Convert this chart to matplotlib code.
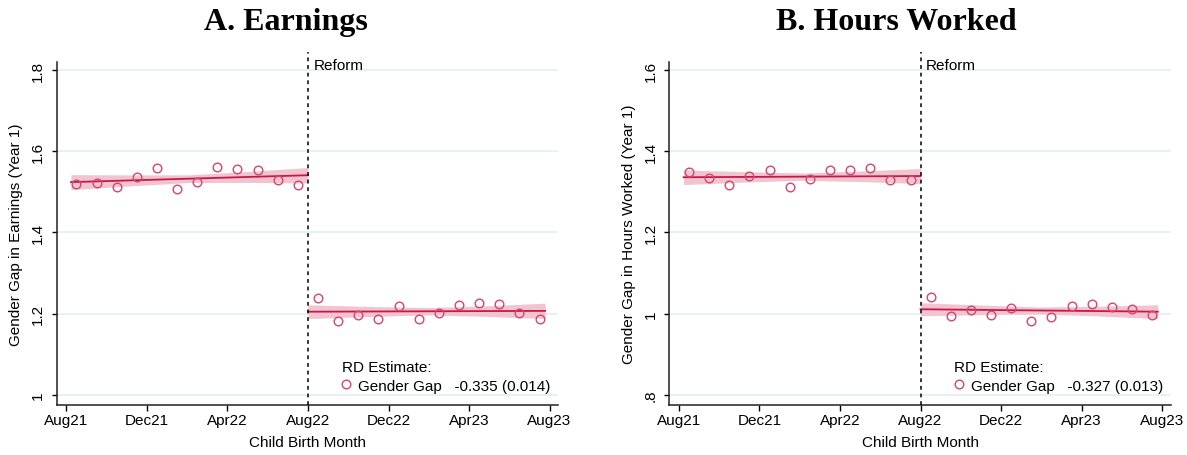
import numpy as np
import matplotlib
matplotlib.use("Agg")
import matplotlib.pyplot as plt

plt.rcParams["font.family"] = "Liberation Sans"

# Birth months (monthly bins), reform in Aug22
birth_month = ["Aug21", "Sep21", "Oct21", "Nov21", "Dec21", "Jan22", "Feb22", "Mar22",
               "Apr22", "May22", "Jun22", "Jul22", "Aug22", "Sep22", "Oct22", "Nov22",
               "Dec22", "Jan23", "Feb23", "Mar23", "Apr23", "May23", "Jun23", "Jul23"]
tick_labels = ["Aug21", "Dec21", "Apr22", "Aug22", "Dec22", "Apr23", "Aug23"]

# Panel A: gender gap in earnings
earn_gap = [1.520, 1.521, 1.513, 1.536, 1.559, 1.506, 1.525, 1.562, 1.557, 1.553, 1.529, 1.518,
            1.239, 1.182, 1.197, 1.186, 1.220, 1.187, 1.202, 1.221, 1.227, 1.225, 1.203, 1.187]
earn_fit_pre = [1.524, 1.541]
earn_fit_post = [1.205, 1.207]
earn_ci_pre = [0.0185, 0.0135, 0.0095, 0.0135, 0.019]
earn_ci_post = [0.017, 0.0125, 0.009, 0.013, 0.019]

# Panel B: gender gap in hours worked
hours_gap = [1.348, 1.335, 1.318, 1.340, 1.355, 1.311, 1.332, 1.353, 1.353, 1.360, 1.330, 1.328,
             1.041, 0.994, 1.008, 0.997, 1.015, 0.983, 0.993, 1.020, 1.025, 1.017, 1.012, 0.996]
hours_fit_pre = [1.336, 1.339]
hours_fit_post = [1.011, 1.005]
hours_ci_pre = [0.018, 0.013, 0.009, 0.013, 0.0185]
hours_ci_post = [0.016, 0.012, 0.0085, 0.012, 0.017]

rd_estimate = [-0.335, -0.327]
rd_se = [0.014, 0.013]

panels = [
    dict(title="A. Earnings", ylabel="Gender Gap in Earnings (Year 1)", gap=earn_gap,
         pre=earn_fit_pre, post=earn_fit_post, ci_pre=earn_ci_pre, ci_post=earn_ci_post,
         yticks=[1.0, 1.2, 1.4, 1.6, 1.8], yticklabels=["1", "1.2", "1.4", "1.6", "1.8"]),
    dict(title="B. Hours Worked", ylabel="Gender Gap in Hours Worked (Year 1)", gap=hours_gap,
         pre=hours_fit_pre, post=hours_fit_post, ci_pre=hours_ci_pre, ci_post=hours_ci_post,
         yticks=[0.8, 1.0, 1.2, 1.4, 1.6], yticklabels=[".8", "1", "1.2", "1.4", "1.6"]),
]

dot_col = "#d4466e"
line_col = "#c8174a"
band_col = "#f1c5d0"
fs = 11

fig = plt.figure(figsize=(11.87, 4.56), dpi=100)
ax_left = [0.0478, 0.5639]
title_x = [0.241, 0.755]

cutoff = 12
month_pos = np.arange(len(birth_month)) + 0.5
fit_start, fit_end = 0.23, 23.78

for i, p in enumerate(panels):
    ax = fig.add_axes([ax_left[i], 0.1103, 0.4225, 0.7515])
    ylo, yhi = p["yticks"][0], p["yticks"][-1]

    # CI bands and linear fits on each side of the cutoff
    for (x0, x1), fit, ci in [((fit_start, cutoff), p["pre"], p["ci_pre"]),
                              ((cutoff, fit_end), p["post"], p["ci_post"])]:
        xs = np.linspace(x0, x1, len(ci))
        ys = np.linspace(fit[0], fit[1], len(ci))
        ax.fill_between(xs, ys - np.array(ci), ys + np.array(ci), color=band_col, lw=0, zorder=2)
        ax.plot([x0, x1], fit, color=line_col, lw=1.3, zorder=3)

    pts, = ax.plot(month_pos, p["gap"], ls="none", marker="o", ms=6.2, mfc="none",
                   mec=dot_col, mew=1.0, zorder=4)

    ax.axvline(cutoff, ymin=0, ymax=1.03, color="black", lw=1.1, ls=(0, (2.5, 2.5)),
               clip_on=False, zorder=5)
    ax.text(cutoff + 0.28, 0.991, "Reform", transform=ax.get_xaxis_transform(),
            fontsize=fs, va="center", ha="left")

    ax.set_xlim(-0.477, 24.43)
    ax.set_ylim(ylo - 0.024, yhi + 0.0197)
    ax.set_xticks(range(0, 25, 4))
    ax.set_xticklabels(tick_labels, fontsize=fs)
    ax.set_yticks(p["yticks"])
    ax.set_yticklabels(p["yticklabels"], rotation=90, va="center", fontsize=fs)
    ax.tick_params(axis="y", length=3.5, width=1, pad=5)
    ax.tick_params(axis="x", length=4, width=1, pad=2)

    ax.grid(axis="y", color="#e6eef0", lw=1.2)
    ax.set_axisbelow(True)
    for s in ["top", "right"]:
        ax.spines[s].set_visible(False)
    for s in ["left", "bottom"]:
        ax.spines[s].set_linewidth(1.1)
        ax.spines[s].set_color("#222222")

    ax.set_xlabel("Child Birth Month", fontsize=fs, labelpad=6)
    ax.set_ylabel(p["ylabel"], fontsize=fs)
    ax.yaxis.set_label_coords(-0.067, 0.5)

    label = "Gender Gap   {:.3f} ({:.3f})".format(rd_estimate[i], rd_se[i])
    ax.legend([pts], [label], title="RD Estimate:", loc="upper left",
              bbox_to_anchor=(0.559, 0.144), frameon=False, fontsize=fs,
              title_fontsize=fs, handlelength=0.6, handletextpad=0.5,
              borderpad=0.3, borderaxespad=0, alignment="left", labelspacing=0.3)

    fig.text(title_x[i], 0.934, p["title"], ha="center", va="baseline",
             fontsize=23, fontweight="bold", family="Liberation Serif")

fig.savefig("out.png", dpi=100)
